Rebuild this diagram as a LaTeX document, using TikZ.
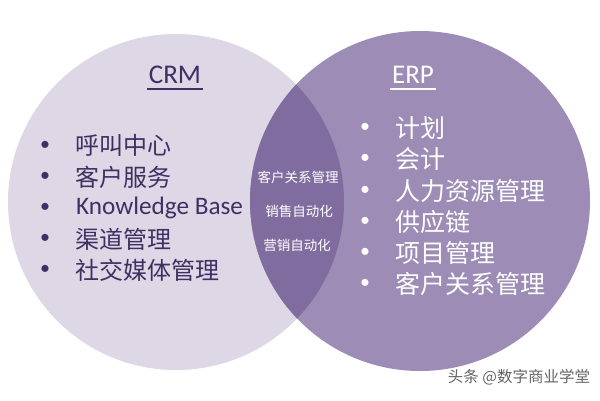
\documentclass[tikz,border=0pt]{standalone}
\usepackage{fontspec}
\setmainfont{Carlito}
\newfontfamily\cjk{Noto Sans CJK SC}
\definecolor{crmfill}{RGB}{222,215,229}
\definecolor{erpfill}{RGB}{156,140,182}
\definecolor{lensfill}{RGB}{128,108,158}
\definecolor{crmtext}{RGB}{62,48,98}
\definecolor{marktext}{RGB}{100,100,100}
\tikzset{
  crmitem/.style={anchor=west, text=crmtext, font=\fontsize{24}{24}\selectfont\cjk, inner sep=0pt},
  erpitem/.style={anchor=west, text=white, font=\fontsize{25}{25}\selectfont\cjk, inner sep=0pt},
  dotitem/.style={anchor=center, font=\fontsize{20}{20}\selectfont, inner sep=0pt},
  lensitem/.style={text=white, font=\fontsize{13.5}{13.5}\selectfont\cjk, inner sep=0pt},
  headitem/.style={font=\fontsize{27}{27}\selectfont, inner sep=0pt}
}
\begin{document}
\begin{tikzpicture}[x=1pt, y=-1pt]
  \useasboundingbox (0,0) rectangle (600,400);

  % The two circles and their overlap.
  \fill[crmfill] (176,202) circle (168);
  \fill[erpfill] (420,201) circle (170);
  \begin{scope}
    \clip (176,202) circle (168);
    \fill[lensfill] (420,201) circle (170);
  \end{scope}

  % CRM side.
  \node[headitem, text=crmtext] (crm) at (175,75) {CRM};
  \draw[crmtext, line width=1.5pt] (147,89) -- (203,89);
  \foreach \y/\t [count=\i] in {145/呼叫中心, 177/客户服务, 239/渠道管理, 270/社交媒体管理} {
    \node[crmitem] (crm\i) at (75,\y) {\t};
  }
  \node[crmitem, font=\fontsize{25.2}{25.2}\selectfont] (crmkb) at (76,208) {Knowledge Base};
  \foreach \y in {146,177,208,239,270} {
    \node[dotitem, text=crmtext] at (45,\y) {•};
  }

  % ERP side.
  \node[headitem, text=white] (erp) at (413,75) {ERP};
  \draw[white, line width=1.5pt] (390,89) -- (436,89);
  \foreach \y/\t [count=\i] in {128/计划, 159/会计, 191/人力资源管理, 222/供应链, 253/项目管理, 284/客户关系管理} {
    \node[erpitem] (erp\i) at (395,\y) {\t};
    \node[dotitem, text=white] at (365,\y) {•};
  }

  % Shared items in the overlap.
  \node[lensitem] (lens1) at (298,177) {客户关系管理};
  \node[lensitem] (lens2) at (299,211) {销售自动化};
  \node[lensitem] (lens3) at (297,245) {营销自动化};

  % Watermark.
  \node[text=marktext, font=\fontsize{15.5}{15.5}\selectfont\cjk, inner sep=0pt] (mark) at (519,377) {头条 @数字商业学堂};

\end{tikzpicture}
\end{document}
